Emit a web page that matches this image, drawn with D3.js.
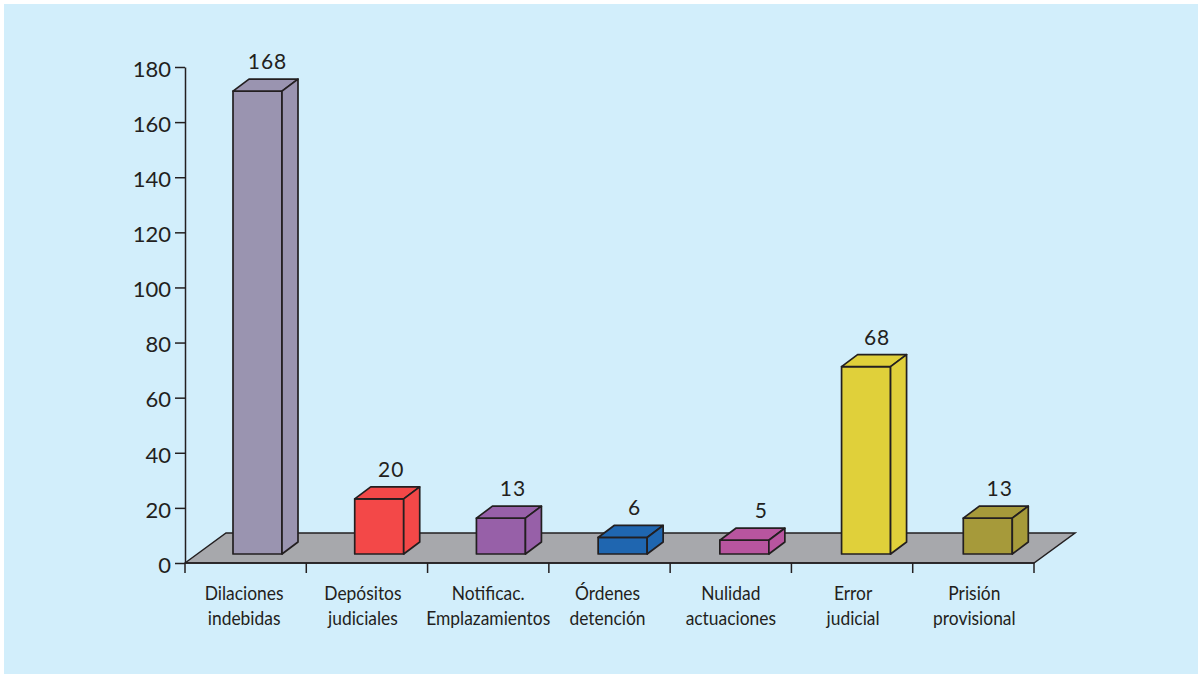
<!DOCTYPE html>
<html>
<head>
<meta charset="utf-8">
<script src="https://cdn.jsdelivr.net/npm/d3@7"></script>
<style>
  html, body { margin: 0; padding: 0; background: #fff; }
  text { font-family: Lato, "Open Sans", sans-serif; fill: #231f20; }
</style>
</head>
<body>
<script>
// chart data
const categories = ["Dilaciones indebidas", "Depósitos judiciales", "Notificac. Emplazamientos",
  "Órdenes detención", "Nulidad actuaciones", "Error judicial", "Prisión provisional"];
const categoryLines = [["Dilaciones", "indebidas"], ["Depósitos", "judiciales"], ["Notificac.", "Emplazamientos"],
  ["Órdenes", "detención"], ["Nulidad", "actuaciones"], ["Error", "judicial"], ["Prisión", "provisional"]];
const values = [168, 20, 13, 6, 5, 68, 13];
const barColors = ["#9a94b0", "#f34848", "#9760a8", "#1f66b0", "#b8559f", "#e0d03a", "#a69a3a"];
const yTicks = [0, 20, 40, 60, 80, 100, 120, 140, 160, 180];

let svg = null;
let x, xBar, y = null; // scales

const margin = {top: 67, left: 185, bottom: 112, right: 164};
const width = 1198 - margin.left - margin.right;
const height = 675 - margin.top - margin.bottom;

// fake 3d offsets, in pixels
const floorDepth = {dx: 41, dy: -30};
const barDepth = {dx: 16, dy: -12};
const barLift = 9;   // the bars stand on the floor, a bit behind the front edge
const barWidth = 49;

// hand placed labels in the original, they don't sit exactly on the band centres
const labelNudge = [-1.5, -4, 0, -2, 0, 1, 1];
const valueNudge = [-2, 0, 0, 0, 5, -1, 0];

appendSvg("body");
setupScales();
appendFloor();
appendAxes();
appendBars();

function appendSvg(domElement) {
  const root = d3.select(domElement).append("svg")
    .attr("width", 1198)
    .attr("height", 675)
    .style("display", "block");

  root.append("rect")
    .attr("x", 4).attr("y", 4)
    .attr("width", 1194).attr("height", 670)
    .attr("fill", "#d2eefb");

  svg = root.append("g")
    .attr("transform", `translate(${margin.left}, ${margin.top})`);
}

function setupScales() {
  x = d3.scaleBand().domain(categories).range([0, width]);
  // bars run on a slightly wider step than the axis ticks
  xBar = d3.scaleBand().domain(categories).range([48, 900]);
  y = d3.scaleLinear().domain([0, 180]).range([height, 0]);
}

function appendFloor() {
  const pts = [
    [0, height],
    [floorDepth.dx, height + floorDepth.dy],
    [width + floorDepth.dx, height + floorDepth.dy],
    [width, height]
  ];
  svg.append("polygon")
    .attr("points", pts.join(" "))
    .attr("fill", "#a7a8ac")
    .attr("stroke", "#231f20")
    .attr("stroke-width", 1.5);
}

function appendAxes() {
  const yAxis = svg.append("g")
    .call(d3.axisLeft(y).tickValues(yTicks).tickSize(10).tickSizeOuter(0).tickPadding(4));
  yAxis.selectAll("text")
    .attr("dy", "0.42em")
    .style("font-size", "22px");

  // ticks on the band edges, not the centres
  const edges = categories.map(c => x(c)).concat(width);
  svg.append("line")
    .attr("x1", 0).attr("x2", width)
    .attr("y1", height).attr("y2", height)
    .attr("stroke", "#231f20").attr("stroke-width", 1.7);
  svg.selectAll(".edge").data(edges).enter().append("line")
    .attr("class", "edge")
    .attr("x1", d => d).attr("x2", d => d)
    .attr("y1", height).attr("y2", height + 10)
    .attr("stroke", "#231f20").attr("stroke-width", 1.5);

  svg.selectAll("path.domain, .tick line")
    .attr("stroke", "#231f20").attr("stroke-width", 1.5);

  const labels = svg.selectAll(".cat").data(categories).enter().append("text")
    .attr("class", "cat")
    .attr("text-anchor", "middle")
    .attr("transform", (d, i) => `translate(${x(d) + x.bandwidth() / 2 + labelNudge[i]}, ${height + 37}) scale(0.87, 1)`)
    .style("font-size", "20px");
  labels.selectAll("tspan").data((d, i) => categoryLines[i]).enter().append("tspan")
    .attr("x", 0)
    .attr("dy", (d, i) => i ? 25 : 0)
    .text(d => d);
}

function appendBars() {
  const bars = svg.selectAll(".bar").data(values).enter().append("g")
    .attr("class", "bar")
    .attr("fill", (d, i) => barColors[i])
    .attr("stroke", "#231f20")
    .attr("stroke-width", 1.7)
    .attr("stroke-linejoin", "round");

  const x0 = (d, i) => xBar(categories[i]);
  const x1 = (d, i) => x0(d, i) + barWidth;
  const yBase = height - barLift;
  const yTop = d => y(d) - barLift;

  // front face
  bars.append("polygon").attr("points", (d, i) => [
    [x0(d, i), yTop(d)], [x1(d, i), yTop(d)], [x1(d, i), yBase], [x0(d, i), yBase]
  ].join(" "));
  // top face
  bars.append("polygon").attr("points", (d, i) => [
    [x0(d, i), yTop(d)], [x0(d, i) + barDepth.dx, yTop(d) + barDepth.dy],
    [x1(d, i) + barDepth.dx, yTop(d) + barDepth.dy], [x1(d, i), yTop(d)]
  ].join(" "));
  // side face
  bars.append("polygon").attr("points", (d, i) => [
    [x1(d, i), yTop(d)], [x1(d, i) + barDepth.dx, yTop(d) + barDepth.dy],
    [x1(d, i) + barDepth.dx, yBase + barDepth.dy], [x1(d, i), yBase]
  ].join(" "));

  svg.selectAll(".val").data(values).enter().append("text")
    .attr("class", "val")
    .attr("text-anchor", "middle")
    .attr("x", (d, i) => x0(d, i) + barWidth / 2 + 12 + valueNudge[i])
    .attr("y", d => yTop(d) + barDepth.dy - 10)
    .style("font-size", "21px")
    .style("letter-spacing", "1px")
    .text(d => d);
}
</script>
</body>
</html>
